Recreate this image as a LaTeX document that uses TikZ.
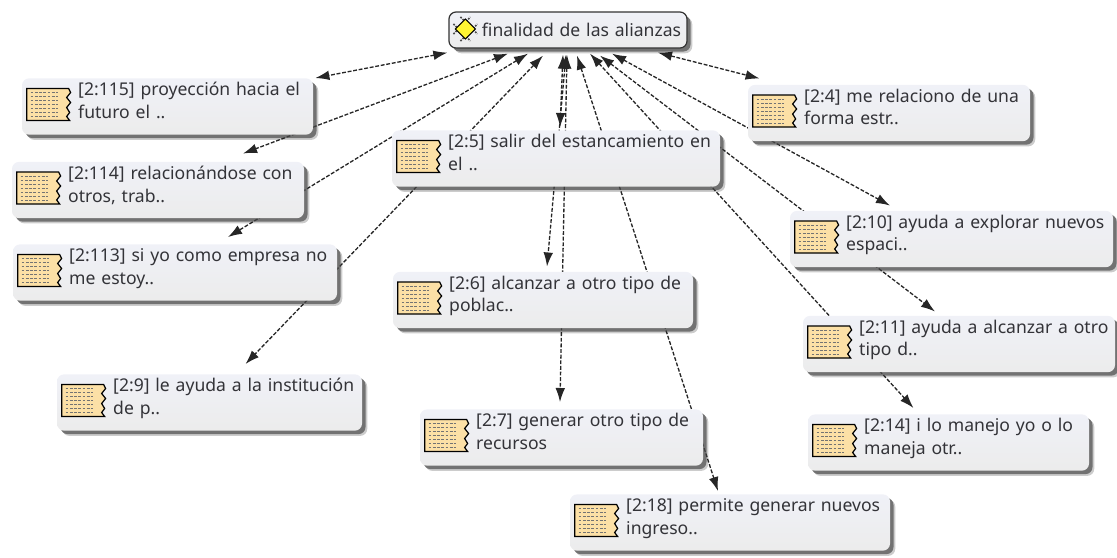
\documentclass[tikz,border=0pt]{standalone}
\usepackage{fontspec}
\setmainfont{Noto Sans}
\usetikzlibrary{arrows.meta}
\usetikzlibrary{backgrounds}
\usetikzlibrary{calc}
\usetikzlibrary{shadows}
\definecolor{mtext}{rgb}{0.2, 0.2, 0.22}
\definecolor{mtop}{rgb}{0.94, 0.945, 0.97}
\definecolor{mbottom}{rgb}{0.925, 0.925, 0.925}
\definecolor{mnote}{rgb}{0.99, 0.88, 0.65}
\tikzset{box/.style = {inner sep = 0, rounded corners = 4pt, top color = mtop, bottom color = mbottom,
                       text = mtext, font = \fontsize{10}{13}\selectfont,
                       drop shadow = {shadow xshift = 3pt, shadow yshift = -3pt, fill = black, opacity = 0.2},
                       drop shadow = {shadow xshift = 2pt, shadow yshift = -2pt, fill = black!70, opacity = 0.7}}}
\tikzset{notebox/.style = {box, align = left, text width = #1*0.02cm, text depth = 20pt, minimum height = 32pt,
                           execute at begin node = {\setlength{\leftskip}{32pt}}}}
\tikzset{link/.style = {{Latex[length = 8pt, width = 5.5pt]}-{Latex[length = 8pt, width = 5.5pt]},
                        black!85, line width = 0.75pt, dash pattern = on 2.2pt off 1pt}}
\tikzset{noteicon/.pic = {
    \draw [fill = mnote, line width = 0.7pt] (-22, -16) -- (20, -16) -- (22, -12) -- (18, -7) -- (22, -2)
      -- (18, 3) -- (21, 8) -- (18, 12) -- (21, 16) -- (-22, 16) -- cycle;
    \foreach \y in {-12, -8, ..., 12} {
      \draw [black!55, line width = 0.25pt, dash pattern = on 1.6pt off 0.8pt] (-18, \y) -- (9, \y);
    }
  }}
\tikzset{goalicon/.pic = {
    \draw [black!70, line width = 0.9pt, dash pattern = on 1pt off 0.7pt] (-12, -5) -- (5, 12) (-5, -12) -- (12, 5)
      (-12, 5) -- (5, -12) (-5, 12) -- (12, -5);
    \draw [fill = yellow!80!white, line width = 0.6pt] (-10, 0) -- (0, -10) -- (10, 0) -- (0, 10) -- cycle;
  }}
\begin{document}
\begin{tikzpicture}[x = 0.02cm, y = -0.02cm]
    \useasboundingbox (0, 0) rectangle (1117, 558);

    \node [box, draw = black!80, line width = 0.7pt, minimum height = 36*0.02cm,
           text width = 238*0.02cm, align = left,
           execute at begin node = {\setlength{\leftskip}{0.66cm}}] (final) at (568, 30) {finalidad de las alianzas};
    \node [notebox = 291] (n115) at (167.5, 106.5) {[2:115] proyección hacia el\\futuro el ..};
    \node [notebox = 292] (n114) at (158, 190) {[2:114] relacionándose con\\otros, trab..};
    \node [notebox = 324] (n113) at (175, 272.5) {[2:113] si yo como empresa no\\me estoy..};
    \node [notebox = 328] (n5) at (556, 158.5) {[2:5] salir del estancamiento en\\el ..};
    \node [notebox = 282] (n4) at (889, 113) {[2:4] me relaciono de una\\forma estr..};
    \node [notebox = 323] (n10) at (951.5, 239) {[2:10] ayuda a explorar nuevos\\espaci..};
    \node [notebox = 300] (n6) at (543, 300) {[2:6] alcanzar a otro tipo de\\poblac..};
    \node [notebox = 312] (n11) at (959, 344) {[2:11] ayuda a alcanzar a otro\\tipo d..};
    \node [notebox = 305] (n9) at (209.5, 402.5) {[2:9] le ayuda a la institución\\de p..};
    \node [notebox = 283] (n7) at (561.5, 437.5) {[2:7] generar otro tipo de\\recursos};
    \node [notebox = 281] (n14) at (948.5, 442.5) {[2:14] i lo manejo yo o lo\\maneja otr..};
    \node [notebox = 320] (n18) at (730, 522.5) {[2:18] permite generar nuevos\\ingreso..};

    \pic at ($(final.west) + (17, -1)$) {goalicon};
    \foreach \n in {n115, n114, n113, n5, n4, n10, n6, n11, n9, n7, n14, n18} {
      \pic at ($(\n.west) + (27, -2)$) {noteicon};
    }

    \begin{scope}[on background layer]
      \draw [link] ($(final.south west) + (-1, 4)$) -- ($(n115.north east) + (2, 0)$);
      \draw [link] ($(final.south) + (-60, 5)$) -- ($(n114.north) + (85, -8)$);
      \draw [link] ($(final.south) + (-40, 5)$) -- ($(n113.north) + (53, -7)$);
      \draw [link] ($(final.south) + (-25, 7)$) -- ($(n9.north) + (36, -10)$);
      \draw [link] ($(final.south) + (-5, 6)$) -- ($(n5.north) + (4, -3)$);
      \draw [link] ($(final.south) + (-2, 6)$) -- ($(n6.north) + (4, -5)$);
      \draw [link] ($(final.south) + (-1, 6)$) -- ($(n7.north) + (-1.5, -7)$);
      \draw [link] ($(final.south) + (9, 7)$) -- ($(n18.north) + (-12, -3)$);
      \draw [link] ($(final.south) + (22, 5)$) -- ($(n14.north) + (-35, -6)$);
      \draw [link] ($(final.south) + (32, 7)$) -- ($(n11.north) + (-24, -4)$);
      \draw [link] ($(final.south) + (44, 5)$) -- ($(n10.north) + (-61.5, -5)$);
      \draw [link] ($(final.south) + (90, 4)$) -- ($(n4.north west) + (12, -6)$);
    \end{scope}
  \end{tikzpicture}
\end{document}
